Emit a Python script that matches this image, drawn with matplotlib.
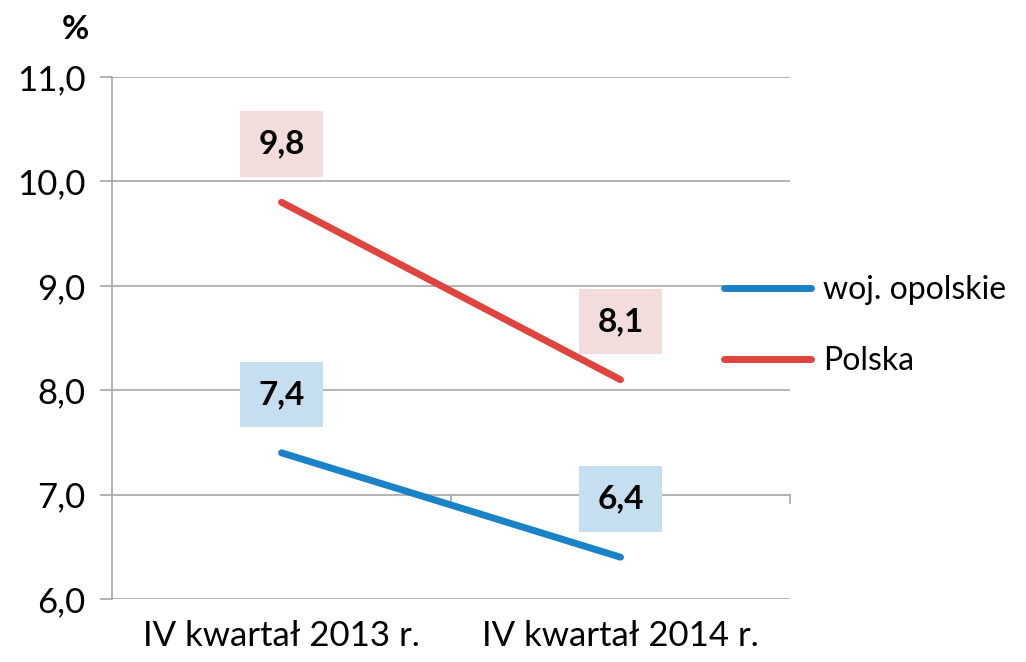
import matplotlib

matplotlib.use("Agg")
import matplotlib.pyplot as plt

categories = ["IV kwartał 2013 r.", "IV kwartał 2014 r."]
opolskie = [7.4, 6.4]
polska = [9.8, 8.1]
y_ticks = [6.0, 7.0, 8.0, 9.0, 10.0, 11.0]

BLUE = "#1a82c6"
RED = "#e0443e"
GRID = "#a6a6a6"
FONT = "Lato"

fig = plt.figure(figsize=(10.26, 6.62), dpi=100)
ax = fig.add_axes([0.1092, 0.0952, 0.6608, 0.7885])

x = list(range(len(categories)))
ax.plot(x, opolskie, color=BLUE, lw=5, solid_capstyle="round", label="woj. opolskie", zorder=3)
ax.plot(x, polska, color=RED, lw=5, solid_capstyle="round", label="Polska", zorder=3)

ax.set_xlim(-0.5, 1.5)
ax.set_ylim(6.0, 11.0)
ax.set_yticks(y_ticks)
ax.set_yticklabels([f"{v:.1f}".replace(".", ",") for v in y_ticks], fontsize=25, family=FONT)
ax.set_xticks(x)
ax.set_xticklabels(categories, fontsize=25, family=FONT)
ax.tick_params(axis="x", length=0, pad=15)
ax.tick_params(axis="y", length=9, width=1.2, color=GRID, pad=10)
ax.grid(axis="y", color=GRID, lw=1.2, zorder=0)

for side in ("top", "right", "bottom"):
    ax.spines[side].set_visible(False)
ax.spines["left"].set_color(GRID)
ax.spines["left"].set_linewidth(1.2)

# category-boundary ticks that hang off the 7,0 line in the original
for xb in (0.5, 1.5):
    ax.plot([xb, xb], [7.0, 6.92], color=GRID, lw=1.2, zorder=1, clip_on=False)

# value labels in tinted boxes
for series, fill in ((opolskie, "#c5dff1"), (polska, "#f2dcdc")):
    for xi, v in zip(x, series):
        ax.annotate(
            f"{v:.1f}".replace(".", ","),
            (xi, v),
            xytext=(0, 42),
            textcoords="offset points",
            ha="center",
            va="center",
            fontsize=24,
            fontweight="bold",
            family=FONT,
            bbox=dict(boxstyle="square,pad=0.55", fc=fill, ec="none"),
            zorder=4,
        )

fig.text(0.073, 0.955, "%", fontsize=24, fontweight="bold", family=FONT, ha="center", va="center")

leg = fig.legend(
    loc="center left",
    bbox_to_anchor=(0.706, 0.508),
    frameon=False,
    prop={"family": FONT, "size": 23},
    handlelength=2.7,
    handletextpad=0.4,
    labelspacing=1.3,
    borderpad=0,
    borderaxespad=0,
)

fig.savefig("out.png", dpi=100, facecolor="white")
